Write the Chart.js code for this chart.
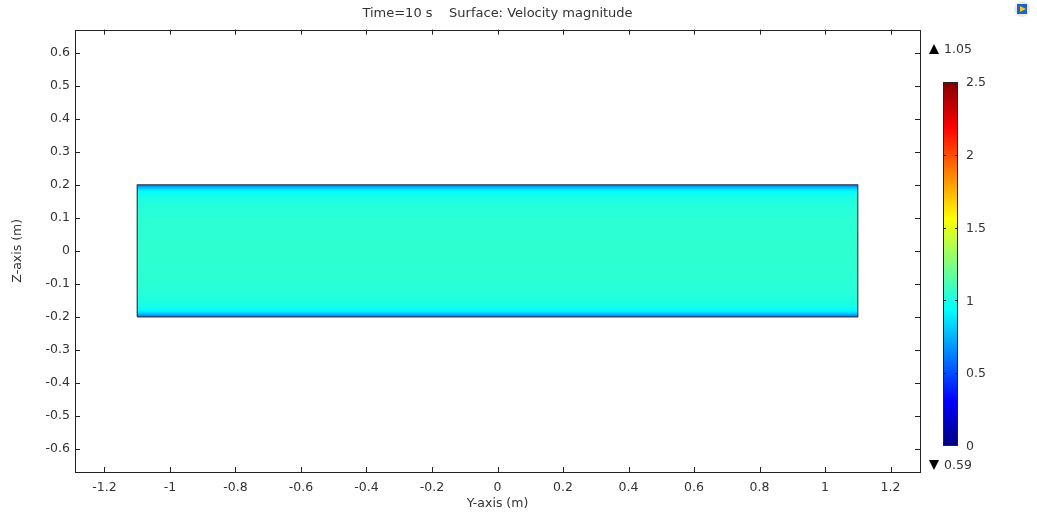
<!DOCTYPE html>
<html>
<head>
<meta charset="utf-8">
<script src="https://cdn.jsdelivr.net/npm/chart.js@4"></script>
<style>
  html, body { margin: 0; padding: 0; background: #fff; }
  #wrap { width: 1037px; height: 519px; }
</style>
</head>
<body>
<div id="wrap"><canvas id="velocityChart" width="1037" height="519"></canvas></div>
<script>
// axis ticks (m)
const yAxisTicks = [-1.2, -1, -0.8, -0.6, -0.4, -0.2, 0, 0.2, 0.4, 0.6, 0.8, 1, 1.2];
const zAxisTicks = [-0.6, -0.5, -0.4, -0.3, -0.2, -0.1, 0, 0.1, 0.2, 0.3, 0.4, 0.5, 0.6];

// channel geometry (m)
const channelY = [-1.1, 1.1];
const channelZ = [-0.2, 0.2];

// velocity magnitude profile across the channel height (m/s)
const profileZ     = [-0.2, -0.195, -0.19, -0.185, -0.18, -0.17, -0.16, -0.14, -0.1, 0, 0.1, 0.14, 0.16, 0.17, 0.18, 0.185, 0.19, 0.195, 0.2];
const profileSpeed = [0.59, 0.70, 0.80, 0.88, 0.93, 0.98, 1.00, 1.02, 1.04, 1.05, 1.04, 1.02, 1.00, 0.98, 0.93, 0.88, 0.80, 0.70, 0.59];

// colour legend
const colorbarTicks = [0, 0.5, 1, 1.5, 2, 2.5];
const speedMax = 1.05;
const speedMin = 0.59;

const FONT = 'DejaVu Sans';
const TEXT = '#333';

function clamp01(v) { return Math.max(0, Math.min(1, v)); }
function jet(t) {
    t = clamp01(t);
    const r = clamp01(1.5 - Math.abs(4 * t - 3));
    const g = clamp01(1.5 - Math.abs(4 * t - 2));
    const b = clamp01(1.5 - Math.abs(4 * t - 1));
    return 'rgb(' + Math.round(r * 255) + ',' + Math.round(g * 255) + ',' + Math.round(b * 255) + ')';
}
const cbMin = colorbarTicks[0];
const cbMax = colorbarTicks[colorbarTicks.length - 1];

// closed outline of the channel
const outline = [
    { x: channelY[0], y: channelZ[0] },
    { x: channelY[1], y: channelZ[0] },
    { x: channelY[1], y: channelZ[1] },
    { x: channelY[0], y: channelZ[1] },
    { x: channelY[0], y: channelZ[0] }
];

function fmt(v) { return String(Math.round(v * 10) / 10); }

// frame, inward ticks, colour bar
const decor = {
    id: 'decor',
    afterDraw(chart) {
        const c = chart.ctx;
        const a = chart.chartArea;
        const xs = chart.scales.x, ys = chart.scales.y;
        c.save();
        c.strokeStyle = '#222';
        c.lineWidth = 1;
        c.strokeRect(Math.round(a.left) + 0.5, Math.round(a.top) + 0.5,
            Math.round(a.right - a.left), Math.round(a.bottom - a.top));
        c.beginPath();
        yAxisTicks.forEach(v => {
            const px = Math.round(xs.getPixelForValue(v)) + 0.5;
            c.moveTo(px, a.bottom); c.lineTo(px, a.bottom - 5);
            c.moveTo(px, a.top); c.lineTo(px, a.top + 5);
        });
        zAxisTicks.forEach(v => {
            const py = Math.round(ys.getPixelForValue(v)) + 0.5;
            c.moveTo(a.left, py); c.lineTo(a.left + 5, py);
            c.moveTo(a.right, py); c.lineTo(a.right - 5, py);
        });
        c.stroke();

        // colour bar
        const bx = a.right + 23, bw = 15, bTop = 82, bBot = 446;
        const grad = c.createLinearGradient(0, bBot, 0, bTop);
        for (let i = 0; i <= 40; i++) {
            grad.addColorStop(i / 40, jet(i / 40));
        }
        c.fillStyle = grad;
        c.fillRect(bx, bTop, bw, bBot - bTop);
        c.strokeStyle = '#222';
        c.strokeRect(bx + 0.5, bTop + 0.5, bw - 1, bBot - bTop - 1);
        c.font = '12.5px "' + FONT + '"';
        c.fillStyle = TEXT;
        c.textAlign = 'left';
        c.textBaseline = 'middle';
        c.beginPath();
        colorbarTicks.forEach(v => {
            const py = bBot - (v - cbMin) / (cbMax - cbMin) * (bBot - bTop);
            c.fillText(fmt(v), bx + bw + 8, py + 1);
            if (v > cbMin && v < cbMax) {
                c.moveTo(bx, Math.round(py) + 0.5); c.lineTo(bx + 3, Math.round(py) + 0.5);
                c.moveTo(bx + bw, Math.round(py) + 0.5); c.lineTo(bx + bw - 3, Math.round(py) + 0.5);
            }
        });
        c.stroke();

        // max / min markers
        c.fillStyle = '#000';
        const tx = a.right + 9;
        c.beginPath();
        c.moveTo(tx, 54); c.lineTo(tx + 10, 54); c.lineTo(tx + 5, 44); c.closePath();
        c.fill();
        c.beginPath();
        c.moveTo(tx, 460); c.lineTo(tx + 10, 460); c.lineTo(tx + 5, 470); c.closePath();
        c.fill();
        c.fillStyle = TEXT;
        c.fillText(speedMax.toFixed(2), tx + 15, 50);
        c.fillText(speedMin.toFixed(2), tx + 15, 466);

        // small toolbar icon
        const ix = 1014, iy = 1;
        c.fillStyle = '#e6eaf0';
        c.beginPath(); c.arc(ix + 8, iy + 8, 8, 0, Math.PI * 2); c.fill();
        c.fillStyle = '#1f63c6';
        c.fillRect(ix + 3, iy + 3, 10, 10);
        c.fillStyle = '#f2c81e';
        c.beginPath(); c.moveTo(ix + 6, iy + 5); c.lineTo(ix + 12, iy + 8); c.lineTo(ix + 6, iy + 11); c.closePath(); c.fill();
        c.restore();
    }
};

const ctx = document.getElementById('velocityChart').getContext('2d');

new Chart(ctx, {
    type: 'scatter',
    data: {
        datasets: [{
            data: outline,
            showLine: true,
            fill: 'shape',
            tension: 0,
            pointRadius: 0,
            borderColor: 'rgba(30, 40, 60, 0.9)',
            borderWidth: 1.2,
            backgroundColor: (context) => {
                const chart = context.chart;
                if (!chart.chartArea) return 'rgba(0,0,0,0)';
                const ys = chart.scales.y;
                const bot = ys.getPixelForValue(channelZ[0]);
                const top = ys.getPixelForValue(channelZ[1]);
                const g = chart.ctx.createLinearGradient(0, bot, 0, top);
                profileZ.forEach((z, i) => {
                    g.addColorStop(clamp01((ys.getPixelForValue(z) - bot) / (top - bot)),
                        jet((profileSpeed[i] - cbMin) / (cbMax - cbMin)));
                });
                return g;
            }
        }]
    },
    options: {
        responsive: false,
        animation: false,
        events: [],
        layout: { padding: { top: 0, right: 117, bottom: 0, left: 0 } },
        scales: {
            x: {
                type: 'linear',
                min: -1.29,
                max: 1.29,
                afterBuildTicks: s => { s.ticks = yAxisTicks.map(v => ({ value: v })); },
                afterFit: s => { s.height = 47; },
                ticks: {
                    callback: v => fmt(v),
                    color: TEXT,
                    font: { family: FONT, size: 12.5 },
                    padding: 8,
                    maxRotation: 0,
                    autoSkip: false
                },
                grid: { drawOnChartArea: false, drawTicks: false },
                border: { display: false },
                title: {
                    display: true,
                    text: 'Y-axis (m)',
                    color: TEXT,
                    font: { family: FONT, size: 12.5 },
                    padding: { top: 0, bottom: 8 }
                }
            },
            y: {
                type: 'linear',
                min: -0.67,
                max: 0.67,
                afterBuildTicks: s => { s.ticks = zAxisTicks.map(v => ({ value: v })); },
                afterFit: s => { s.width = 75; },
                ticks: {
                    callback: v => fmt(v),
                    color: TEXT,
                    font: { family: FONT, size: 12.5 },
                    padding: 5,
                    autoSkip: false
                },
                grid: { drawOnChartArea: false, drawTicks: false },
                border: { display: false },
                title: {
                    display: true,
                    text: 'Z-axis (m)',
                    color: TEXT,
                    font: { family: FONT, size: 12.5 },
                    padding: { top: 10, bottom: 0 }
                }
            }
        },
        plugins: {
            legend: { display: false },
            tooltip: { enabled: false },
            title: {
                display: true,
                fullSize: false,
                text: 'Time=10 s    Surface: Velocity magnitude',
                color: TEXT,
                font: { family: FONT, size: 13, weight: 'normal' },
                padding: { top: 6, bottom: 8 }
            }
        }
    },
    plugins: [decor]
});
</script>
</body>
</html>
